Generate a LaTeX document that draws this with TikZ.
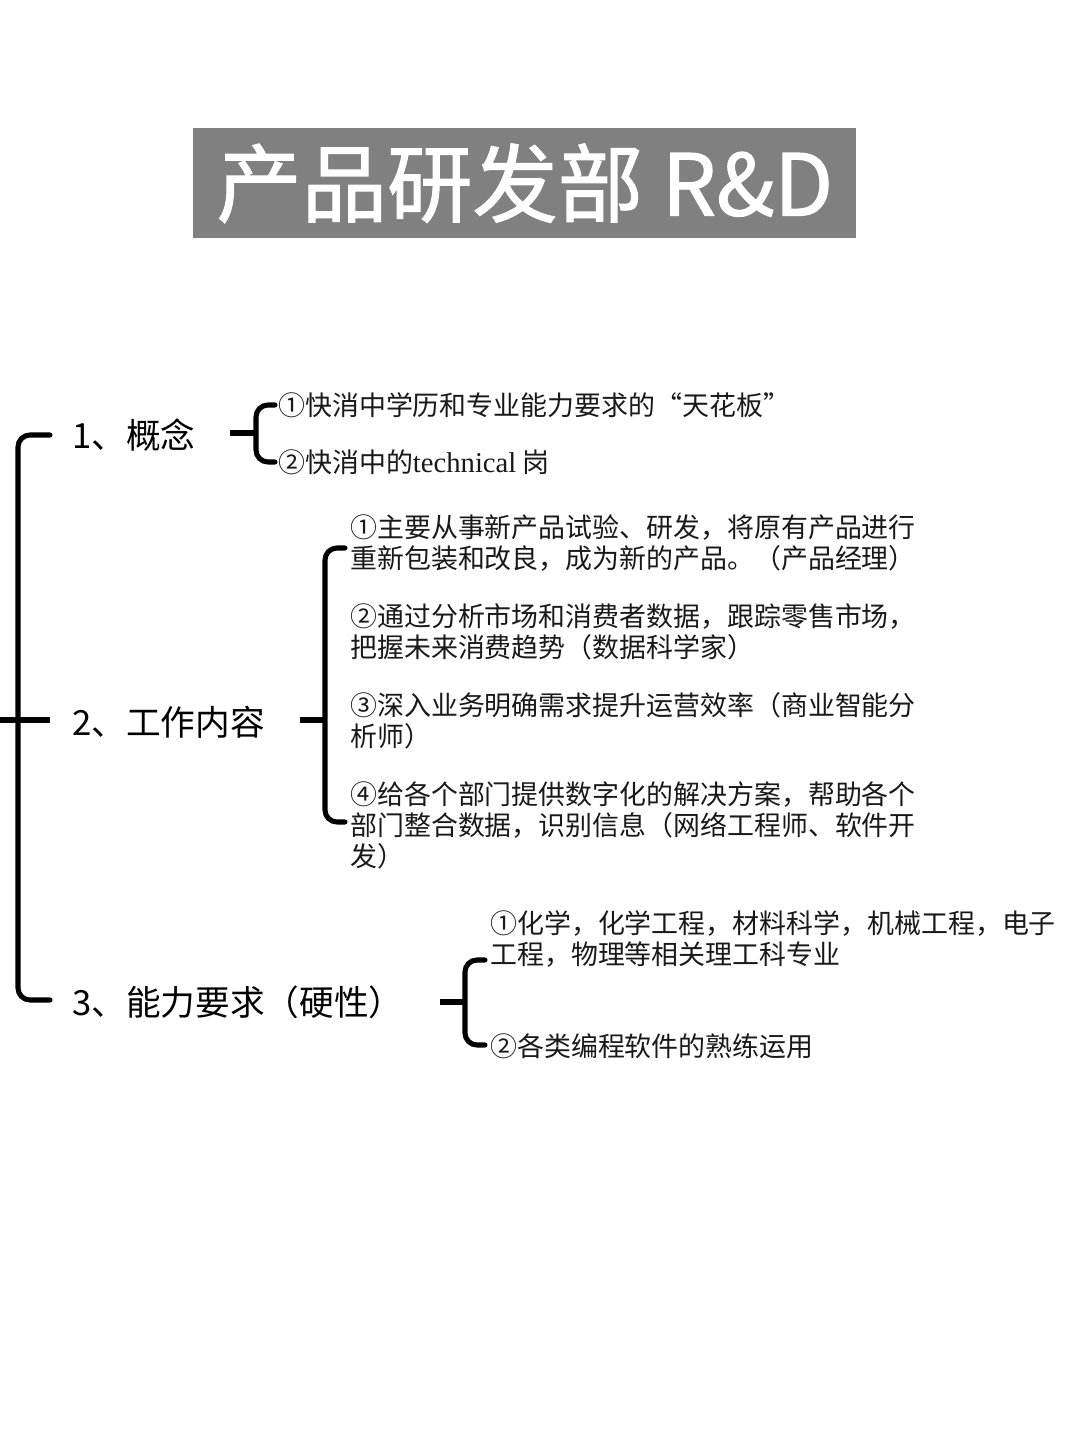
\documentclass[tikz,border=0pt]{standalone}
\usepackage{fontspec}
\setmainfont{Noto Sans CJK SC}
\newfontfamily\titlefont[BoldFont={Noto Sans CJK SC},BoldFeatures={FakeBold=1.3}]{Noto Sans CJK SC}
\begin{document}
\begin{tikzpicture}[x=0.75pt,y=-0.75pt,
  br/.style={line width=3.8pt,rounded corners=9pt,line cap=round},
  lab/.style={anchor=west,inner sep=0pt,font=\fontsize{26}{30}\selectfont},
  item/.style={anchor=north west,inner sep=0pt,align=left,font=\fontsize{20.2}{23.3}\selectfont,text=black!90}]
\useasboundingbox (0,0) rectangle (1080,1440);
\fill[white] (0,0) rectangle (1080,1440);
\node[fill=black!50,minimum width=663*0.75pt,minimum height=110*0.75pt,anchor=north west,inner sep=0pt,
  text=white,font=\titlefont\bfseries\fontsize{64}{70}\selectfont] (title) at (193,128) {产品研发部 R\&D};
% main bracket
\draw[br] (50,435) -- (18,435) -- (18,1000) -- (50,1000);
\coordinate (m0) at (0,720); \coordinate (m1) at (50,720);
\draw[line width=3.8pt] (m0) -- (m1);
\node[lab] (l1) at (72,435) {1、概念};
\node[lab] (l2) at (72,722) {2、工作内容};
\node[lab] (l3) at (72,1002) {3、能力要求（硬性）};
% bracket 1
\draw[br] (275,405) -- (256,405) -- (256,462) -- (275,462);
\coordinate (b1) at (256,433);
\draw[line width=3.8pt] (230,433) -- (b1);
\node[item,anchor=west] (a1) at (278,405) {①快消中学历和专业能力要求的“天花板”};
\node[item,anchor=west] (a2) at (278,462) {②快消中的{\fontspec{Liberation Serif}\fontsize{21.5}{23}\selectfont technical} 岗};
% bracket 2
\draw[br] (345,548) -- (325,548) -- (325,822) -- (345,822);
\coordinate (b2) at (325,720);
\draw[line width=3.8pt] (300,720) -- (b2);
\node[item] (c1) at (350,514) {①主要从事新产品试验、研发，将原有产品进行\\重新包装和改良，成为新的产品。（产品经理）};
\node[item] (c2) at (350,603) {②通过分析市场和消费者数据，跟踪零售市场，\\把握未来消费趋势（数据科学家）};
\node[item] (c3) at (350,692) {③深入业务明确需求提升运营效率（商业智能分\\析师）};
\node[item] (c4) at (350,781) {④给各个部门提供数字化的解决方案，帮助各个\\部门整合数据，识别信息（网络工程师、软件开\\发）};
% bracket 3
\draw[br] (485,960) -- (465,960) -- (465,1045) -- (485,1045);
\coordinate (b3) at (465,1002);
\draw[line width=3.8pt] (440,1002) -- (b3);
\node[item] (d1) at (490,910) {①化学，化学工程，材料科学，机械工程，电子\\工程，物理等相关理工科专业};
\node[item,anchor=west] (d2) at (490,1046) {②各类编程软件的熟练运用};
\end{tikzpicture}
\end{document}
